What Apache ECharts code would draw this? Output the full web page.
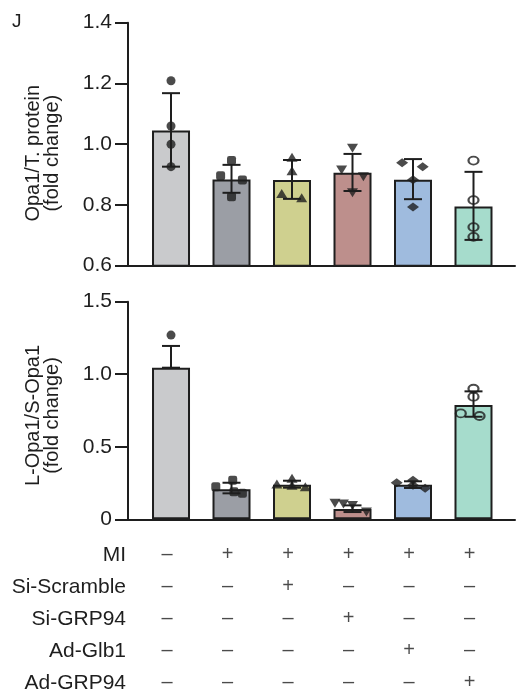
<!DOCTYPE html>
<html><head><meta charset="utf-8">
<script src="https://cdn.jsdelivr.net/npm/echarts@6/dist/echarts.min.js"></script>
<style>html,body{margin:0;padding:0;background:#fff}#c{width:516px;height:699px}</style>
</head><body><div id="c"></div>
<script>
// ---- data ----
const groups = ['Sham', 'MI', 'MI+Si-Scramble', 'MI+Si-GRP94', 'MI+Ad-Glb1', 'MI+Ad-GRP94'];
const barColors = ['#c9cacc', '#9b9ea5', '#cfd08f', '#bd8f8c', '#9fbbde', '#a6dccc'];
const pointSymbols = ['circle', 'roundRect', 'triangle', 'triangleDown', 'diamond', 'emptyCircle'];

const topTicks = [0.6, 0.8, 1.0, 1.2, 1.4];
const topMean = [1.045, 0.884, 0.882, 0.906, 0.883, 0.795];
const topErrLow = [0.926, 0.840, 0.820, 0.846, 0.819, 0.685];
const topErrHigh = [1.168, 0.932, 0.948, 0.968, 0.951, 0.909];
const topPoints = [
  [1.209, 1.060, 1.000, 0.926],
  [0.946, 0.896, 0.882, 0.827],
  [0.957, 0.913, 0.838, 0.824],
  [0.987, 0.915, 0.893, 0.840],
  [0.939, 0.926, 0.883, 0.793],
  [0.946, 0.816, 0.727, 0.695]
];
const topJitter = [
  [0, 0, 0, 0],
  [0, -0.18, 0.18, 0],
  [0, 0, -0.17, 0.16],
  [0, -0.18, 0.18, 0],
  [-0.18, 0.16, 0, 0],
  [0, 0, 0, 0]
];

const botTicks = [0, 0.5, 1.0, 1.5];
const botMean = [1.045, 0.207, 0.239, 0.071, 0.239, 0.788];
const botErrLow = [1.045, 0.179, 0.218, 0.050, 0.216, 0.707];
const botErrHigh = [1.195, 0.252, 0.266, 0.096, 0.262, 0.882];
const botPoints = [
  [1.270],
  [0.270, 0.225, 0.190, 0.180],
  [0.283, 0.243, 0.235, 0.225],
  [0.110, 0.105, 0.095, 0.050],
  [0.270, 0.252, 0.235, 0.214],
  [0.900, 0.845, 0.730, 0.712]
];
const botJitter = [
  [0],
  [0.02, -0.26, 0.04, 0.18],
  [0, -0.25, 0, 0.22],
  [-0.29, -0.15, 0, 0.23],
  [0, -0.27, 0, 0.2],
  [0, 0, -0.21, 0.1]
];

const rowLabels = ['MI', 'Si-Scramble', 'Si-GRP94', 'Ad-Glb1', 'Ad-GRP94'];
const rowMarks = [
  ['–', '+', '+', '+', '+', '+'],
  ['–', '–', '+', '–', '–', '–'],
  ['–', '–', '–', '+', '–', '–'],
  ['–', '–', '–', '–', '+', '–'],
  ['–', '–', '–', '–', '–', '+']
];

// ---- build ----
const FONT = '"Liberation Sans", Arial, sans-serif';
const INK = '#1e1e1e';
const X_MIN = -0.711, X_MAX = 5.686;

function xAxisFor(gi, showLine) {
  return {
    gridIndex: gi, type: 'value', min: X_MIN, max: X_MAX,
    axisLine: { show: showLine, onZero: false, lineStyle: { color: INK, width: 2 } },
    axisTick: { show: false }, axisLabel: { show: false }, splitLine: { show: false }
  };
}
function yAxisFor(gi, min, max, interval, name, fmt, shiftPad) {
  return {
    gridIndex: gi, type: 'value', min: min, max: max, interval: interval,
    name: name, nameLocation: 'middle', nameGap: 66, nameRotate: 90,
    nameTextStyle: { fontFamily: FONT, fontSize: 20, color: INK, lineHeight: 19, padding: [0, shiftPad, 0, 0] },
    axisLine: { show: true, onZero: false, lineStyle: { color: INK, width: 2 } },
    axisTick: { show: true, length: 13, lineStyle: { color: INK, width: 2 } },
    axisLabel: { fontFamily: FONT, fontSize: 21, color: INK, margin: 16, formatter: fmt },
    splitLine: { show: false }
  };
}

function barSeries(gi, means) {
  return {
    type: 'bar', xAxisIndex: gi, yAxisIndex: gi, barWidth: 38, z: 2,
    data: means.map((m, i) => ({ value: [i, m], itemStyle: { color: barColors[i] } })),
    itemStyle: { borderColor: INK, borderWidth: 2 },
    silent: true, animation: false
  };
}
function errSeries(gi, lows, highs) {
  return {
    type: 'custom', xAxisIndex: gi, yAxisIndex: gi, z: 3, silent: true, animation: false,
    data: lows.map((l, i) => [i, l, highs[i]]),
    renderItem: function (params, api) {
      const x = api.value(0);
      const a = api.coord([x, api.value(1)]);
      const b = api.coord([x, api.value(2)]);
      const cap = 9;
      const st = { stroke: INK, lineWidth: 2 };
      return {
        type: 'group', children: [
          { type: 'line', shape: { x1: a[0], y1: a[1], x2: b[0], y2: b[1] }, style: st },
          { type: 'line', shape: { x1: a[0] - cap, y1: a[1], x2: a[0] + cap, y2: a[1] }, style: st },
          { type: 'line', shape: { x1: b[0] - cap, y1: b[1], x2: b[0] + cap, y2: b[1] }, style: st }
        ]
      };
    }
  };
}
function pointSeries(gi, pts, jit) {
  const out = [];
  pts.forEach((arr, i) => {
    const sym = pointSymbols[i];
    let symbol = sym, rot = 0, size = 9, style = { color: INK };
    if (sym === 'roundRect') { size = 9; }
    if (sym === 'triangle') { size = [11, 9]; }
    if (sym === 'triangleDown') { symbol = 'triangle'; rot = 180; size = [11, 9]; }
    if (sym === 'diamond') { size = [12, 9]; }
    if (sym === 'emptyCircle') { symbol = 'circle'; size = [10, 8]; style = { color: 'rgba(0,0,0,0)', borderColor: INK, borderWidth: 2 }; }
    out.push({
      type: 'scatter', xAxisIndex: gi, yAxisIndex: gi, z: 4, silent: true, animation: false,
      symbol: symbol, symbolRotate: rot, symbolSize: size, itemStyle: style,
      data: arr.map((v, k) => [i + jit[i][k], v])
    });
  });
  return out;
}

const tableData = [];
rowMarks.forEach((row, r) => row.forEach((m, c) => tableData.push({ value: [c, r], mark: m })));

const option = {
  animation: false,
  backgroundColor: '#fff',
  title: { text: 'J', left: 7, top: 7, textStyle: { fontFamily: FONT, fontSize: 19, fontWeight: 'normal', color: INK } },
  grid: [
    { left: 128, right: 1, top: 22.7, height: 243 },
    { left: 128, right: 1, top: 301.7, height: 217.6 },
    { left: 128, right: 1, top: 538.75, height: 162.5 }
  ],
  xAxis: [xAxisFor(0, true), xAxisFor(1, true), xAxisFor(2, false)],
  yAxis: [
    yAxisFor(0, topTicks[0], topTicks[topTicks.length - 1], 0.2, 'Opa1/T. protein\n(fold change)', v => v.toFixed(1), 18),
    yAxisFor(1, botTicks[0], botTicks[botTicks.length - 1], 0.5, 'L-Opa1/S-Opa1\n(fold change)', v => v === 0 ? '0' : v.toFixed(1), 10),
    {
      gridIndex: 2, type: 'category', data: rowLabels, inverse: true,
      axisLine: { show: false }, axisTick: { show: false }, splitLine: { show: false },
      axisLabel: { fontFamily: FONT, fontSize: 21, color: INK, margin: 2 }
    }
  ],
  series: [
    barSeries(0, topMean), errSeries(0, topErrLow, topErrHigh), ...pointSeries(0, topPoints, topJitter),
    barSeries(1, botMean), errSeries(1, botErrLow, botErrHigh), ...pointSeries(1, botPoints, botJitter),
    {
      type: 'scatter', xAxisIndex: 2, yAxisIndex: 2, symbolSize: 0, silent: true, animation: false,
      data: tableData,
      label: {
        show: true, position: 'inside', offset: [-4, 0],
        fontFamily: FONT, fontSize: 20, color: INK,
        formatter: p => p.data.mark
      }
    }
  ]
};
const chart = echarts.init(document.getElementById('c'), null, { renderer: 'canvas' });
chart.setOption(option);
</script></body></html>
